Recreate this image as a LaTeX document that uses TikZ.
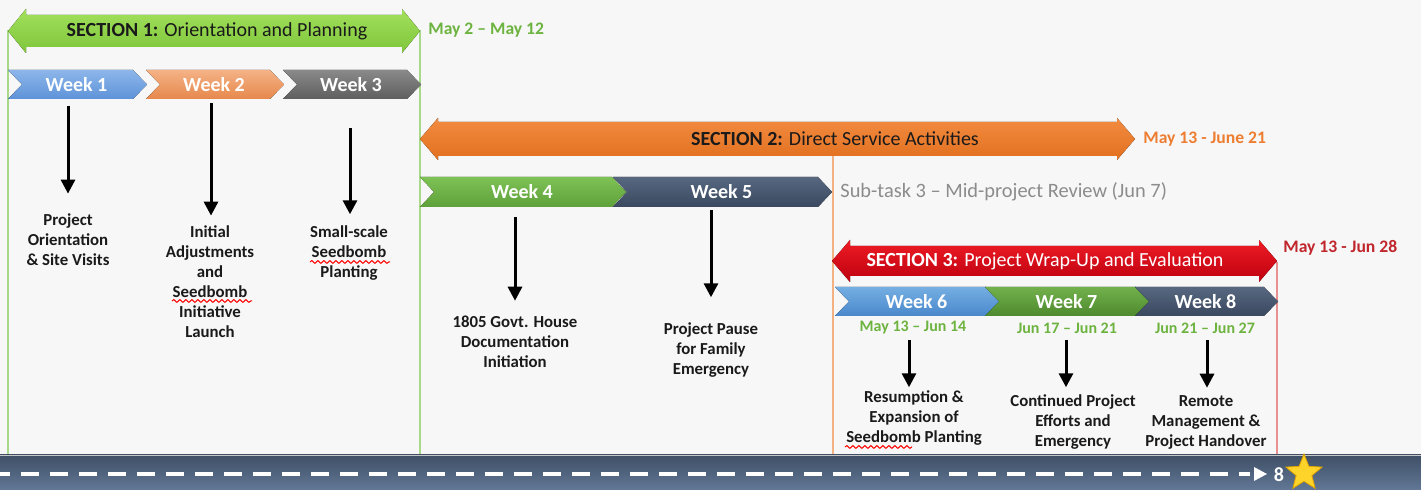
\documentclass[tikz,border=0pt]{standalone}
\usepackage{fontspec}
\setmainfont{Carlito}
\usetikzlibrary{arrows.meta,shapes.geometric,decorations.pathmorphing}

\definecolor{bgc}{HTML}{F7F7F7}
\definecolor{s1t}{HTML}{A2E05C}
\definecolor{s1b}{HTML}{7EC63A}
\definecolor{s2t}{HTML}{F28B40}
\definecolor{s2b}{HTML}{E2701F}
\definecolor{s3t}{HTML}{EE1C25}
\definecolor{s3b}{HTML}{BE0010}
\definecolor{wk1a}{HTML}{8DB6EA}
\definecolor{wk1b}{HTML}{5E93D8}
\definecolor{wk2a}{HTML}{F5B286}
\definecolor{wk2b}{HTML}{E6884C}
\definecolor{wk3a}{HTML}{8A8A8A}
\definecolor{wk3b}{HTML}{5E5E5E}
\definecolor{wk4a}{HTML}{7EC255}
\definecolor{wk4b}{HTML}{5EA13A}
\definecolor{wk5a}{HTML}{56677F}
\definecolor{wk5b}{HTML}{3A4960}
\definecolor{wk6a}{HTML}{74AEE2}
\definecolor{wk6b}{HTML}{4A88CC}
\definecolor{wk7a}{HTML}{72B04C}
\definecolor{wk7b}{HTML}{4E8A2E}
\definecolor{wk8a}{HTML}{56677F}
\definecolor{wk8b}{HTML}{3A4960}
\definecolor{dgreen}{HTML}{6DB33F}
\definecolor{dorange}{HTML}{ED7D31}
\definecolor{dred}{HTML}{C0262C}
\definecolor{subgray}{HTML}{8C8C8C}
\definecolor{vgreen}{HTML}{A8D88A}
\definecolor{vorange}{HTML}{F4B183}
\definecolor{vred}{HTML}{E89090}
\definecolor{bar1}{HTML}{3F4F66}
\definecolor{bar2}{HTML}{627896}
\definecolor{starc}{HTML}{FFD42A}
\definecolor{staredge}{HTML}{E0A400}
\definecolor{ink}{HTML}{1A1A1A}

\begin{document}
\begin{tikzpicture}[x=0.5pt,y=-0.5pt,
  sect/.style={font=\fontsize{10}{12}\selectfont, text=ink, inner sep=0},
  wk/.style={font=\fontsize{10}{12}\selectfont\bfseries, text=white, inner sep=0},
  datelbl/.style={font=\fontsize{8.8}{10}\selectfont\bfseries, anchor=west, inner sep=0},
  task/.style={font=\fontsize{8.4}{10}\selectfont\bfseries, text=ink, align=center, inner sep=0},
  down/.style={-{Triangle[width=7pt,length=7pt]}, line width=1.5pt},
  squiggle/.style={red, line width=0.5pt, decorate, decoration={snake, amplitude=0.7pt, segment length=3pt}}]

  \fill[bgc] (0,0) rectangle (1421,490);
  \useasboundingbox (0,0) rectangle (1421,490);

  % section borders
  \draw[vgreen, line width=1pt] (8,30) -- (8,455);
  \draw[vgreen, line width=1pt] (420,30) -- (420,455);
  \draw[vorange, line width=1pt] (833,150) -- (833,455);
  \draw[vred, line width=1pt] (1277,262) -- (1277,455);

  % section arrows
  \foreach \l/\r/\m/\hh/\bh/\c in {8/420/31/22/16/s1, 420/1135/139/21/17/s2, 832/1277/261/21/15/s3} {
    \fill[top color=\c t, bottom color=\c b] (\l,\m) -- (\l+18,\m-\hh) -- (\l+18,\m-\bh) -- (\r-18,\m-\bh)
      -- (\r-18,\m-\hh) -- (\r,\m) -- (\r-18,\m+\hh) -- (\r-18,\m+\bh) -- (\l+18,\m+\bh) -- (\l+18,\m+\hh) -- cycle;
  }
  \node[sect] (s1) at (217,31) {\textbf{SECTION 1:} Orientation and Planning};
  \node[sect] (s2) at (835,139) {\textbf{SECTION 2:} Direct Service Activities};
  \node[sect, text=white] (s3) at (1045,261) {\textbf{SECTION 3:} Project Wrap-Up and Evaluation};

  \node[datelbl, text=dgreen] (d1) at (428,30) {May 2 – May 12};
  \node[datelbl, text=dorange] (d2) at (1143,139) {May 13 - June 21};
  \node[datelbl, text=dred] (d3) at (1283,248) {May 13 - Jun 28};
  \node[anchor=west, inner sep=0, text=subgray, font=\fontsize{10.2}{12}\selectfont] (sub) at (840,192) {Sub-task 3 – Mid-project Review (Jun 7)};

  % week chevrons
  \foreach \n/\xa/\xb/\ya/\yb/\c in {1/8/147/70/99/wk1, 2/146/284/70/99/wk2, 3/283/421/70/99/wk3,
      4/420/626/177/207/wk4, 5/613/832/177/207/wk5,
      6/835/1000/287/316/wk6, 7/985/1150/287/316/wk7, 8/1135/1278/287/316/wk8} {
    \fill[top color=\c a, bottom color=\c b] (\xa,\ya) -- (\xb-14,\ya) -- (\xb,{(\ya+\yb)/2}) -- (\xb-14,\yb)
      -- (\xa,\yb) -- (\xa+14,{(\ya+\yb)/2}) -- cycle;
    \node[wk] (w\n) at ({(\xa+\xb)/2-1},{(\ya+\yb)/2}) {Week \n};
  }

  \node[datelbl, anchor=center, text=dgreen, font=\fontsize{8}{10}\selectfont\bfseries] (d6) at (913,328) {May 13 – Jun 14};
  \node[datelbl, anchor=center, text=dgreen, font=\fontsize{8}{10}\selectfont\bfseries] (d7) at (1067,328) {Jun 17 – Jun 21};
  \node[datelbl, anchor=center, text=dgreen, font=\fontsize{8}{10}\selectfont\bfseries] (d8) at (1205,328) {Jun 21 – Jun 27};

  % tasks
  \node[task] (t1) at (68,240) {Project\\Orientation\\\& Site Visits};
  \node[task] (t2) at (210,282) {Initial\\Adjustments\\and\\Seedbomb\\Initiative\\Launch};
  \node[task] (t3) at (349,253) {Small-scale\\Seedbomb\\Planting};
  \node[task] (t4) at (515,342) {1805 Govt. House\\Documentation\\Initiation};
  \node[task] (t5) at (711,350) {Project Pause\\for Family\\Emergency};
  \node[task] (t6) at (914,418) {Resumption \&\\Expansion of\\Seedbomb Planting};
  \node[task] (t7) at (1073,422) {Continued Project\\Efforts and\\Emergency};
  \node[task] (t8) at (1206,422) {Remote\\Management \&\\Project Handover};

  % spell-check marks
  \draw[squiggle] (172,301) -- (252,301);
  \draw[squiggle] (310,262) -- (390,262);
  \draw[squiggle] (845,447) -- (912,447);

  \foreach \n/\x/\y/\g in {1/68/106/10pt, 2/211/103/5pt, 3/350/128/5.5pt, 4/515/217/7.5pt,
      5/711/210/12.5pt, 6/909/340/1.5pt, 7/1066/340/3.5pt, 8/1207/340/3.5pt} {
    \coordinate (a\n) at (\x,\y);
    \draw[down, shorten >=\g] (a\n) -- (a\n |- t\n.north);
  }

  % timeline bar
  \fill[top color=bar1, bottom color=bar2] (0,455) rectangle (1421,490);
  \draw[gray!45] (0,455) -- (1421,455);
  \draw[white, line width=2pt, dash pattern=on 9pt off 5.5pt, dash phase=4pt] (0,474) -- (1250,474);
  \fill[white] (1254,467) -- (1267,474) -- (1254,481) -- cycle;
  \node[font=\fontsize{10}{12}\selectfont\bfseries, text=white, inner sep=0] (eight) at (1279,475) {8};
  \node[star, star points=5, star point ratio=2.3, fill=starc, draw=staredge, minimum size=19pt, inner sep=0] (goal) at (1304,473) {};
\end{tikzpicture}
\end{document}
